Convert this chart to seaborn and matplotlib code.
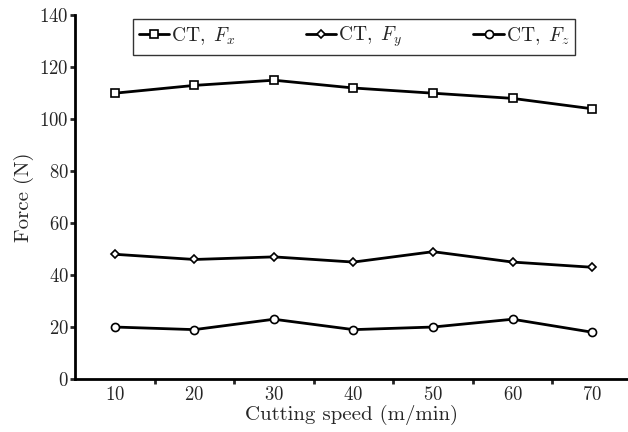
import numpy as np
import pandas as pd
import matplotlib
matplotlib.use("Agg")
import matplotlib.pyplot as plt
import seaborn as sns

sns.set_style("ticks")
plt.rcParams['font.family'] = ['cmr10', 'DejaVu Serif']
plt.rcParams['mathtext.fontset'] = 'cm'
plt.rcParams['axes.formatter.use_mathtext'] = True

# data
speed = [10, 20, 30, 40, 50, 60, 70]
force_x = [110, 113, 115, 112, 110, 108, 104]
force_y = [48, 46, 47, 45, 49, 45, 43]
force_z = [20, 19, 23, 19, 20, 23, 18]

series_labels = [r'CT, $\,F_x$', r'CT, $\,F_y$', r'CT, $\,F_z$']
series_values = [force_x, force_y, force_z]
series_markers = ['s', 'D', 'o']
series_msize = [6.0, 4.0, 5.8]

fig = plt.figure(figsize=(6.28, 4.32), dpi=100)
ax = fig.add_axes([0.1194, 0.1227, 0.8806, 0.842])

for lab, vals, mk, ms in zip(series_labels, series_values, series_markers, series_msize):
    df = pd.DataFrame({'speed': speed, 'force': vals})
    sns.lineplot(data=df, x='speed', y='force', ax=ax, color='black', linewidth=2.0,
                 marker=mk, markersize=ms, markerfacecolor='white',
                 markeredgecolor='black', markeredgewidth=1.2, label=lab)

ax.set_xlim(5, 74.5)
ax.set_ylim(0, 140)
ax.set_yticks(np.arange(0, 141, 20))
ax.set_xticks(speed)
ax.set_xticks(np.arange(15, 70, 10), minor=True)
ax.tick_params(axis='x', which='major', length=0, labelsize=13.5, pad=5)
ax.tick_params(axis='x', which='minor', length=3.5, width=2, direction='out')
ax.tick_params(axis='y', which='major', length=3.5, width=2, direction='out', labelsize=13.5, pad=1)

for side in ['top', 'right']:
    ax.spines[side].set_visible(False)
for side in ['left', 'bottom']:
    ax.spines[side].set_linewidth(2)
    ax.spines[side].set_color('black')

ax.set_xlabel('Cutting speed (m/min)', fontsize=15, labelpad=1)
ax.set_ylabel('Force (N)', fontsize=15, labelpad=4)

leg = ax.legend(loc='upper left', bbox_to_anchor=(0.105, 0.99), ncol=3, frameon=True,
                fancybox=False, edgecolor='black', fontsize=14, handlelength=1.55,
                handletextpad=0.1, columnspacing=3.65, borderpad=0.3, borderaxespad=0)
leg.get_frame().set_linewidth(1.0)

plt.savefig('out.png', dpi=100)
plt.close()
